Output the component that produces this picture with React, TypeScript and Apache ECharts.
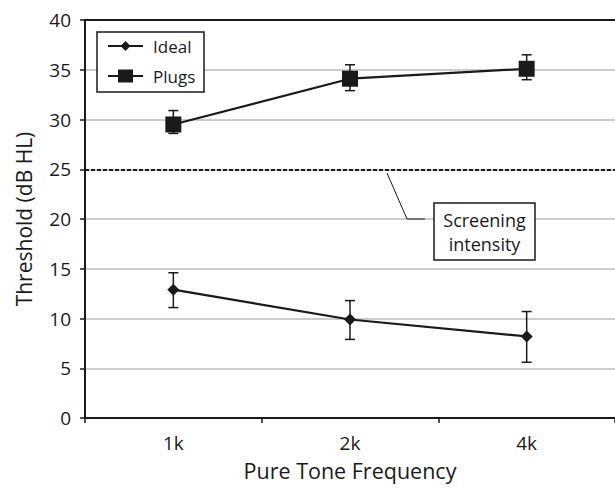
import React, { useEffect, useRef } from "react";
import * as echarts from "echarts";

const categories = ["1k", "2k", "4k"];
const idealValues = [12.9, 9.9, 8.2];
const idealLow = [11.1, 7.9, 5.6];
const idealHigh = [14.6, 11.8, 10.7];
const plugsValues = [29.5, 34.1, 35.1];
const plugsLow = [28.6, 32.9, 34.0];
const plugsHigh = [30.9, 35.5, 36.5];
const screeningLevel = 25;
const yTicks = { min: 0, max: 40, interval: 5 };

const FONT = "Open Sans";
const INK = "#1a1a1a";

function errorSeries(low: number[], high: number[]) {
  return {
    type: "custom",
    silent: true,
    z: 3,
    data: low.map((l, i) => [i, l, high[i]]),
    renderItem: (params: any, api: any) => {
      const x = api.value(0);
      const lo = api.coord([x, api.value(1)]);
      const hi = api.coord([x, api.value(2)]);
      const cap = 5;
      const style = { stroke: INK, lineWidth: 1.5, fill: "none" };
      return {
        type: "group",
        children: [
          { type: "line", shape: { x1: lo[0], y1: lo[1], x2: hi[0], y2: hi[1] }, style },
          { type: "line", shape: { x1: lo[0] - cap, y1: lo[1], x2: lo[0] + cap, y2: lo[1] }, style },
          { type: "line", shape: { x1: hi[0] - cap, y1: hi[1], x2: hi[0] + cap, y2: hi[1] }, style },
        ],
      };
    },
  };
}

export default function App() {
  const ref = useRef<HTMLDivElement>(null);
  useEffect(() => {
    if (!ref.current) return;
    const chart = echarts.init(ref.current, null, { renderer: "svg" });
    chart.setOption({
      animation: false,
      backgroundColor: "#fff",
      textStyle: { fontFamily: FONT },
      grid: { left: 85, top: 20, width: 533, height: 398 },
      xAxis: [
        {
          type: "category",
          data: categories,
          boundaryGap: true,
          axisLine: { lineStyle: { color: INK, width: 2 } },
          axisTick: { show: true, length: 5, lineStyle: { color: INK, width: 1.5 } },
          axisLabel: { fontSize: 19, color: INK, margin: 15, fontFamily: FONT },
          name: "Pure Tone Frequency",
          nameLocation: "middle",
          nameGap: 41,
          nameTextStyle: { fontSize: 21.5, color: INK, fontFamily: FONT },
          splitLine: { show: false },
        },
        {
          type: "category",
          data: categories,
          position: "top",
          axisLine: { lineStyle: { color: INK, width: 2 } },
          axisTick: { show: false },
          axisLabel: { show: false },
          splitLine: { show: false },
        },
      ],
      yAxis: {
        type: "value",
        min: yTicks.min,
        max: yTicks.max,
        interval: yTicks.interval,
        axisLine: { show: true, lineStyle: { color: INK, width: 2 } },
        axisTick: { show: true, length: 5, lineStyle: { color: INK, width: 1.5 } },
        axisLabel: { fontSize: 19, color: INK, margin: 14, fontFamily: FONT },
        splitLine: { show: true, lineStyle: { color: "#bdbdbd", width: 1.5 } },
        name: "Threshold (dB HL)",
        nameLocation: "middle",
        nameRotate: 90,
        nameGap: 51,
        nameTextStyle: { fontSize: 21, color: INK, fontFamily: FONT },
      },
      series: [
        {
          name: "Ideal",
          type: "line",
          data: idealValues,
          symbol: "diamond",
          symbolSize: 12,
          z: 4,
          lineStyle: { color: INK, width: 2.2 },
          itemStyle: { color: INK },
          markLine: {
            silent: true,
            symbol: "none",
            label: { show: false },
            lineStyle: { color: INK, width: 2, type: [4, 2] },
            data: [{ yAxis: screeningLevel }],
          },
        },
        {
          name: "Plugs",
          type: "line",
          data: plugsValues,
          symbol: "rect",
          symbolSize: 16,
          z: 4,
          lineStyle: { color: INK, width: 2.2 },
          itemStyle: { color: INK },
        },
        errorSeries(idealLow, idealHigh),
        errorSeries(plugsLow, plugsHigh),
      ],
      graphic: [
        // legend
        { type: "rect", shape: { x: 97, y: 32, width: 107, height: 60 }, style: { fill: "#fff", stroke: INK, lineWidth: 1.5 }, z: 10 },
        { type: "line", shape: { x1: 108, y1: 46, x2: 143, y2: 46 }, style: { stroke: INK, lineWidth: 2.2 }, z: 11 },
        { type: "polygon", shape: { points: [[125.5, 41], [130.5, 46], [125.5, 51], [120.5, 46]] }, style: { fill: INK }, z: 11 },
        { type: "text", x: 153, y: 46, style: { text: "Ideal", fontSize: 17, fontFamily: FONT, fill: INK, verticalAlign: "middle", align: "left" }, z: 11 },
        { type: "line", shape: { x1: 108, y1: 76, x2: 143, y2: 76 }, style: { stroke: INK, lineWidth: 2.2 }, z: 11 },
        { type: "rect", shape: { x: 118, y: 69.5, width: 15, height: 13 }, style: { fill: INK }, z: 11 },
        { type: "text", x: 153, y: 76, style: { text: "Plugs", fontSize: 17, fontFamily: FONT, fill: INK, verticalAlign: "middle", align: "left" }, z: 11 },
        // annotation
        { type: "polyline", shape: { points: [[387, 173], [407, 219], [425, 219]] }, style: { stroke: INK, lineWidth: 1, fill: "none" }, z: 10 },
        { type: "rect", shape: { x: 434, y: 203, width: 101, height: 57 }, style: { fill: "#fff", stroke: INK, lineWidth: 1.5 }, z: 10 },
        { type: "text", x: 484.5, y: 231.5, style: { text: "Screening\nintensity", fontSize: 18, lineHeight: 24, fontFamily: FONT, fill: INK, align: "center", verticalAlign: "middle" }, z: 11 },
      ],
    });
    return () => chart.dispose();
  }, []);
  return <div ref={ref} style={{ width: 615, height: 488, position: "absolute", left: 0, top: 0 }} />;
}
